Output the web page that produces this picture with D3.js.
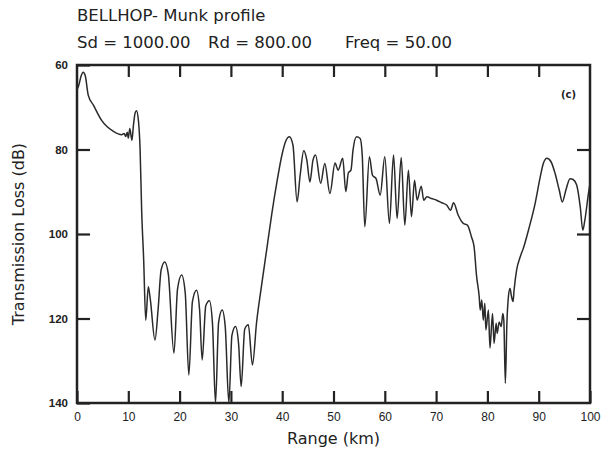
<!DOCTYPE html>
<html>
<head>
<meta charset="utf-8">
<script src="https://cdn.jsdelivr.net/npm/d3@7"></script>
<style>
  body { margin: 0; background: #fff; }
  svg { display: block; }
  text { font-family: "DejaVu Sans", "Liberation Sans", sans-serif; fill: #222; }
</style>
</head>
<body>
<div id="chart"></div>
<script>
// title lines
var titleLine1 = "BELLHOP- Munk profile";
var titleParts = ["Sd = 1000.00", "Rd = 800.00", "Freq = 50.00"];

// transmission loss curve
var rangeKm = [0.0, 0.3, 0.8, 1.2, 1.6, 2.2, 3.2, 4.8, 7.1, 8.7, 9.2, 9.5, 9.8, 10.0, 10.3, 10.7, 11.0, 11.3, 11.6, 12.0,
  12.3, 12.6, 13.0, 13.4, 13.9, 14.3, 15.2, 15.8, 16.4, 17.1, 17.8, 18.9, 19.6, 20.4, 21.1, 21.8, 22.5, 23.3, 23.9, 24.4,
  25.1, 25.8, 26.4, 27.0, 27.6, 28.3, 28.9, 29.6, 30.2, 30.9, 31.5, 32.0, 32.7, 33.4, 34.2, 35.0, 36.0, 37.0, 38.0, 39.0,
  40.0, 40.7, 41.4, 42.1, 42.9, 43.5, 44.2, 44.8, 45.4, 46.0, 46.5, 47.5, 48.3, 49.3, 50.3, 50.9, 51.8, 52.4, 52.9, 53.4, 53.8,
  54.5, 55.2, 55.6, 56.1, 57.0, 57.6, 58.3, 59.1, 60.0, 60.9, 61.7, 62.4, 63.2, 63.9, 64.6, 65.2, 65.8, 66.3, 67.1, 67.6,
  68.2, 69.1, 70.1, 71.1, 72.1, 72.8, 73.4, 74.3, 75.3, 76.1, 76.9, 77.4, 77.9, 78.4, 78.6, 78.9, 79.2, 79.5, 79.7, 80.2,
  80.5, 81.0, 81.3, 81.7, 81.9, 82.3, 82.7, 83.0, 83.2, 83.5, 83.8, 84.1, 84.4, 84.7, 85.0, 85.2, 85.7, 86.4, 87.0, 88.0,
  89.3, 90.3, 90.9, 91.6, 92.4, 93.2, 94.0, 94.6, 95.3, 96.1, 96.7, 97.4, 98.1, 98.6, 99.0, 99.7, 100.0];
var lossDb = [65.8, 65.0, 62.6, 61.7, 62.5, 67.2, 69.5, 73.1, 75.7, 76.5, 76.2, 76.9, 75.9, 77.3, 75.0, 77.8, 74.3, 71.5, 70.8, 73.5,
  80.0, 94.3, 106.2, 120.4, 112.5, 115.6, 125.1, 118.0, 108.5, 106.6, 109.5, 128.2, 113.0, 109.7, 114.0, 133.4, 116.0, 113.3, 118.0, 129.8,
  117.0, 115.8, 121.0, 140.0, 121.0, 118.0, 122.0, 140.0, 124.0, 121.9, 126.0, 136.1, 122.5, 121.5, 131.0, 121.0, 112.0, 103.5, 95.0, 87.5,
  81.0, 78.0, 77.0, 79.0, 92.4, 86.1, 80.3, 82.5, 87.7, 82.5, 81.3, 88.0, 83.3, 90.4, 83.2, 84.9, 82.1, 90.0, 85.5, 84.9, 80.2,
  77.0, 77.4, 81.3, 98.3, 81.7, 86.1, 86.9, 90.8, 81.7, 97.5, 81.3, 96.3, 81.9, 97.9, 84.9, 95.9, 87.3, 92.0, 88.7, 92.0,
  91.2, 91.6, 92.0, 92.6, 93.2, 94.4, 92.6, 95.5, 97.5, 97.9, 100.7, 103.0, 110.1, 114.8, 118.0, 115.6, 120.4, 116.4, 122.7, 118.0,
  127.0, 118.8, 125.9, 121.1, 123.5, 120.8, 121.9, 118.8, 120.4, 135.3, 121.1, 114.8, 112.9, 114.8, 116.0, 113.3, 108.5, 105.4, 103.4, 99.1,
  92.8, 86.5, 83.3, 82.1, 82.9, 85.7, 89.6, 92.4, 89.6, 86.9, 87.1, 88.4, 93.6, 99.1, 96.7, 90.4, 88.0];

// ticks
var xTicks = [0, 10, 20, 30, 40, 50, 60, 70, 80, 90, 100];
var yTicks = [60, 80, 100, 120, 140];

var svgWidth = 614;
var svgHeight = 452;

var margin = { top: 65, right: 24, bottom: 49, left: 77 };
var chartWidth = svgWidth - margin.left - margin.right;
var chartHeight = svgHeight - margin.top - margin.bottom;

var svg = d3.select("#chart").append("svg")
    .attr("width", svgWidth)
    .attr("height", svgHeight);

// titles
svg.append("text")
    .attr("x", 77).attr("y", 21)
    .style("font-size", "16.5px")
    .text(titleLine1);

var partX = [77, 208, 345];
titleParts.forEach(function(t, i) {
    svg.append("text")
        .attr("x", partX[i]).attr("y", 48)
        .style("font-size", "16.5px")
        .text(t);
});

var chartGroup = svg.append("g")
    .attr("transform", `translate(${margin.left}, ${margin.top})`);

var xScale = d3.scaleLinear().domain([0, 100]).range([0, chartWidth]);
var yScale = d3.scaleLinear().domain([60, 140]).range([0, chartHeight]);

// bottom axis with labels, ticks inward
var xAxis = d3.axisBottom(xScale).tickValues(xTicks).tickSize(-12).tickSizeOuter(0).tickPadding(9);
var gx = chartGroup.append("g")
    .attr("transform", `translate(0, ${chartHeight})`)
    .call(xAxis);

// top ticks
var gxt = chartGroup.append("g")
    .call(d3.axisTop(xScale).tickValues(xTicks.slice(1, -1)).tickSize(-12).tickSizeOuter(0).tickFormat(""));

// left axis
var yAxis = d3.axisLeft(yScale).tickValues(yTicks).tickSize(-13).tickSizeOuter(0).tickPadding(9);
var gy = chartGroup.append("g").call(yAxis);

// right ticks
var gyr = chartGroup.append("g")
    .attr("transform", `translate(${chartWidth}, 0)`)
    .call(d3.axisRight(yScale).tickValues(yTicks.slice(1, -1)).tickSize(-13).tickSizeOuter(0).tickFormat(""));

[gx, gxt, gy, gyr].forEach(function(g) {
    g.select(".domain").remove();
    g.selectAll(".tick line").attr("stroke", "#222").attr("stroke-width", 2.2);
});
gx.selectAll(".tick text").style("font-size", "12px").style("fill", "#222")
    .style("font-family", "'Liberation Sans', Arial, sans-serif");
gy.selectAll(".tick text").style("font-size", "11.5px").style("font-weight", "bold").style("fill", "#222")
    .style("font-family", "'Liberation Sans', Arial, sans-serif");

// frame
chartGroup.append("rect")
    .attr("x", 0).attr("y", 0)
    .attr("width", chartWidth).attr("height", chartHeight)
    .attr("fill", "none")
    .attr("stroke", "#222")
    .attr("stroke-width", 2.5);

// clip
chartGroup.append("clipPath").attr("id", "plotclip")
    .append("rect").attr("width", chartWidth).attr("height", chartHeight);

var data = rangeKm.map(function(r, i) { return { r: r, tl: lossDb[i] }; });

var line = d3.line()
    .x(d => xScale(d.r))
    .y(d => yScale(d.tl))
    .curve(d3.curveMonotoneX);

chartGroup.append("path")
    .datum(data)
    .attr("clip-path", "url(#plotclip)")
    .attr("fill", "none")
    .attr("stroke", "#2a2a2a")
    .attr("stroke-width", 1.5)
    .attr("d", line);

// panel tag
chartGroup.append("text")
    .attr("x", chartWidth - 29).attr("y", 33)
    .style("font-size", "10px")
    .style("font-weight", "bold")
    .text("(c)");

// axis titles
svg.append("text")
    .attr("transform", `translate(${margin.left + chartWidth / 2}, 444)`)
    .attr("text-anchor", "middle")
    .style("font-size", "16px")
    .text("Range (km)");

svg.append("text")
    .attr("transform", `translate(24, ${margin.top + chartHeight / 2}) rotate(270)`)
    .attr("text-anchor", "middle")
    .style("font-size", "16px")
    .text("Transmission Loss (dB)");
</script>
</body>
</html>
